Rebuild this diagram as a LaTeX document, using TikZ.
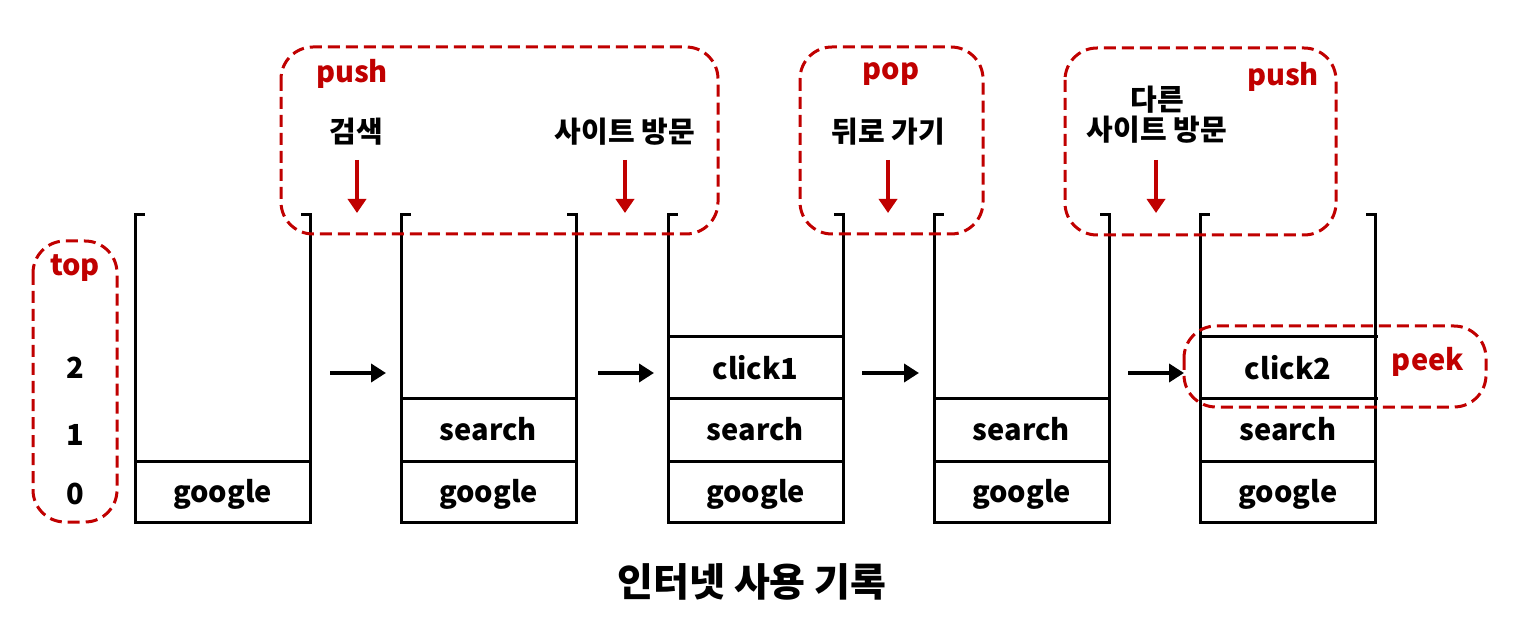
\documentclass[tikz,border=0pt]{standalone}
\usepackage{fontspec}
\setmainfont{Noto Sans CJK KR}
\usetikzlibrary{arrows.meta}
\definecolor{rd}{HTML}{C00000}
\tikzset{
  stk/.style={line width=3pt, black, line cap=rect},
  cell/.style={font=\fontsize{29}{34}\selectfont\bfseries, inner sep=0pt},
  lbl/.style={font=\fontsize{29}{34}\selectfont\bfseries, inner sep=0pt, align=center},
  rlbl/.style={lbl, text=rd},
  rbox/.style={draw=rd, line width=3pt, dash pattern=on 12pt off 6pt, rounded corners=32pt},
  rarr/.style={draw=rd, line width=4pt, -{Triangle[length=14pt,width=18pt]}},
  barr/.style={draw=black, line width=4.5pt, -{Triangle[length=15pt,width=18pt]}}
}
\begin{document}
\begin{tikzpicture}[x=1pt,y=-1pt]
\useasboundingbox (0,0) rectangle (1516,620);
% stacks
\foreach \i/\xa in {1/135,2/401,3/668,4/934,5/1200}{
  \pgfmathsetmacro{\xb}{\xa+175}
  \draw[stk] (\xa+8,215) -- (\xa,215) -- (\xa,522) -- (\xb,522) -- (\xb,215) -- (\xb-8,215);
  \draw[stk] (\xa,461) -- (\xb,461);
  \coordinate (s\i l) at (\xa,373);
  \coordinate (s\i r) at (\xb,373);
}
\draw[stk] (401,398) -- (576,398);
\draw[stk] (668,398) -- (843,398);
\draw[stk] (668,337) -- (843,337);
\draw[stk] (934,398) -- (1109,398);
\draw[stk] (1200,398) -- (1376,398);
\draw[stk] (1200,337) -- (1376,337);
% cells
\node[cell] (g1) at (222.5,494) {google};
\node[cell] (g2) at (488.5,494) {google};
\node[cell] (g3) at (755.5,494) {google};
\node[cell] (g4) at (1021.5,494) {google};
\node[cell] (g5) at (1288,494) {google};
\node[cell] (s2) at (488.5,429) {search};
\node[cell] (s3) at (755.5,429) {search};
\node[cell] (s4) at (1021.5,429) {search};
\node[cell] (s5) at (1288,429) {search};
\node[cell] (c3) at (755.5,368) {click1};
\node[cell] (c5) at (1288,368) {click2};
% black arrows
\coordinate (a1s) at (330,373); \coordinate (a1e) at (386,373);
\coordinate (a2s) at (598,373); \coordinate (a2e) at (654,373);
\coordinate (a3s) at (862,373); \coordinate (a3e) at (919,373);
\coordinate (a4s) at (1128,373); \coordinate (a4e) at (1184,373);
\draw[barr] (a1s) -- (a1e);
\draw[barr] (a2s) -- (a2e);
\draw[barr] (a3s) -- (a3e);
\draw[barr] (a4s) -- (a4e);
% top index box
\draw[rbox] (33,241) rectangle (117,522);
\node[rlbl] (top) at (75,268) {top};
\node[lbl] (i2) at (75,368) {2};
\node[lbl] (i1) at (75,435) {1};
\node[lbl] (i0) at (75,494) {0};
% push box 1
\draw[rbox] (281,47) rectangle (718,234);
\node[rlbl] (push1) at (352,74) {push};
\node[lbl] (k1) at (356,132) {검색};
\node[lbl] (k2) at (625,132) {사이트 방문};
\coordinate (r1s) at (357,160); \coordinate (r1e) at (357,213);
\coordinate (r2s) at (625,160); \coordinate (r2e) at (625,213);
\draw[rarr] (r1s) -- (r1e);
\draw[rarr] (r2s) -- (r2e);
% pop box
\draw[rbox] (800,47) rectangle (983,234);
\node[rlbl] (pop) at (891,74) {pop};
\node[lbl] (k3) at (888,132) {뒤로 가기};
\coordinate (r3s) at (888,160); \coordinate (r3e) at (888,213);
\draw[rarr] (r3s) -- (r3e);
% push box 2
\draw[rbox] (1065,48) rectangle (1336,235);
\node[rlbl] (push2) at (1283,77) {push};
\node[lbl] (k4) at (1157,115) {다른\\[-4pt]사이트 방문};
\coordinate (r4s) at (1156,160); \coordinate (r4e) at (1156,213);
\draw[rarr] (r4s) -- (r4e);
% peek box
\draw[rbox] (1184,326) rectangle (1486,407);
\node[rlbl] (peek) at (1428,362) {peek};
% title
\node[font=\fontsize{39}{46}\selectfont\bfseries, inner sep=0pt] (title) at (752,582) {인터넷 사용 기록};
\end{tikzpicture}
\end{document}
